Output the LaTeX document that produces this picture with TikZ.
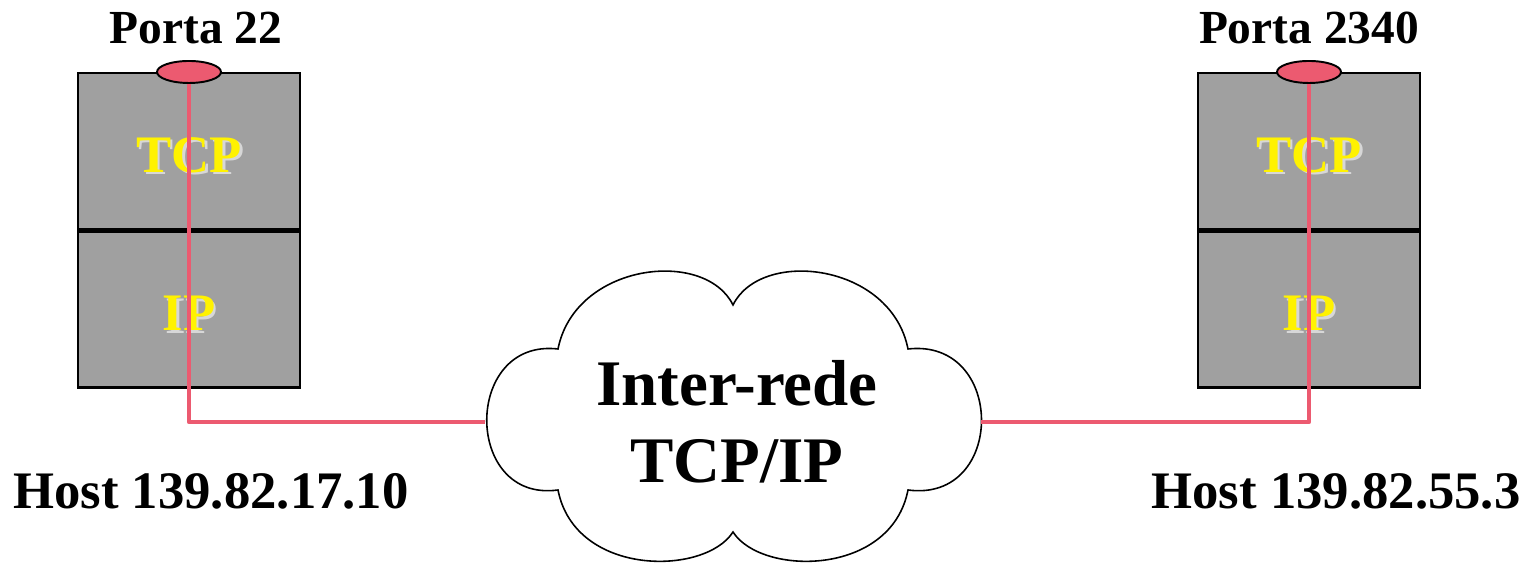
\documentclass[tikz,border=0pt]{standalone}
\usepackage{fontspec}
\setmainfont{Liberation Serif}
\usetikzlibrary{positioning,shapes.geometric}
\definecolor{linha}{RGB}{236,90,112}
\definecolor{cinza}{RGB}{160,160,160}
\definecolor{sombra}{RGB}{215,215,215}
\newcommand{\camada}[1]{\makebox[0pt][l]{\hspace{1.5pt}\raisebox{-1.5pt}{\textcolor{sombra}{#1}}}\textcolor{yellow}{#1}}
\begin{document}
\begin{tikzpicture}[x=0.02cm,y=0.02cm,
  caixa/.style={rectangle, draw, line width=1.4pt, fill=cinza, minimum width=4.44cm, minimum height=3.12cm, inner sep=0, text height=24pt, text depth=0pt, font=\fontsize{30}{36}\selectfont\bfseries},
  porta/.style={ellipse, draw, line width=1.1pt, fill=linha, minimum width=1.28cm, minimum height=0.44cm, inner sep=0},
  rotulo/.style={inner sep=0, font=\fontsize{27}{32}\selectfont\bfseries},
  host/.style={inner sep=0, anchor=base, font=\fontsize{30}{36}\selectfont\bfseries},
  rede/.style={inner sep=0, align=center, font=\fontsize{37}{44}\selectfont\bfseries},
  fio/.style={draw=linha, line width=2.6pt, line join=round},
  nuvem/.style={draw, fill=white, line width=0.9pt}]
\useasboundingbox (0,0) rectangle (1532,563);
\node[caixa] (tcpA) at (189,412) {\camada{TCP}};
\node[caixa, below=0pt of tcpA] (ipA) {\camada{IP}};
\node[porta] (portaA) at (189,491) {};
\node[rotulo, above=0.32cm of portaA, xshift=0.14cm] (txtA) {Porta 22};
\node[caixa] (tcpB) at (1309,412) {\camada{TCP}};
\node[caixa, below=0pt of tcpB] (ipB) {\camada{IP}};
\node[porta] (portaB) at (1309,491) {};
\node[rotulo, above=0.32cm of portaB] (txtB) {Porta 2340};
\node[host] (hostA) at (211,54) {Host 139.82.17.10};
\node[host] (hostB) at (1336,54) {Host 139.82.55.3};
\draw[nuvem] (558,214) .. controls (575,300) and (705,315) .. (733,258)
  .. controls (761,315) and (891,300) .. (908,214)
  .. controls (1006,225) and (1006,60) .. (908,73)
  .. controls (891,-14) and (761,-13) .. (733,31)
  .. controls (705,-13) and (575,-14) .. (558,73)
  .. controls (463,60) and (463,225) .. (558,214) -- cycle;
\node[rede] (rede) at (737,141) {Inter-rede\\TCP/IP};
\coordinate (redeW) at (485,141);
\coordinate (redeE) at (981,141);
\draw[fio](portaA.south) |- (redeW);
\draw[fio](portaB.south) |- (redeE);
\end{tikzpicture}
\end{document}
